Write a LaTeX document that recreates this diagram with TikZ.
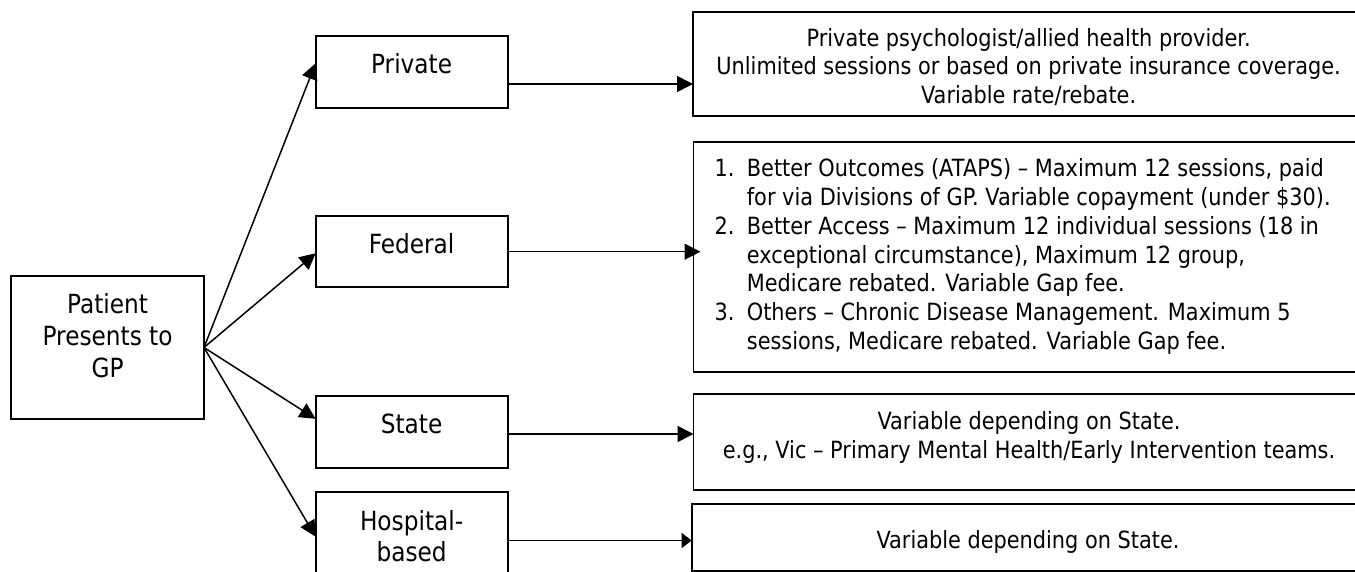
\documentclass[tikz,border=0pt]{standalone}
\usepackage{fontspec}
\setmainfont{DejaVu Sans}[FakeStretch=0.88]
\usetikzlibrary{arrows.meta}
\newcommand\lfont{\fontsize{26.4}{32}\selectfont}
\newcommand\rfont{\fontsize{23.7}{28.8}\selectfont}
\begin{document}
\begin{tikzpicture}[x=1pt,y=-1pt,
  box/.style={draw=black, line width=1.8pt, rectangle, inner sep=0pt, outer sep=0pt, anchor=north west},
  ltxt/.style={inner sep=0pt, anchor=base, font=\lfont},
  rtxt/.style={inner sep=0pt, anchor=base, font=\rfont},
  ftxt/.style={inner sep=0pt, anchor=base west, font=\rfont},
  conn/.style={line width=1.5pt, -{Triangle[length=16pt,width=16pt]}},
  connshort/.style={line width=1.5pt, -{Triangle[length=10pt,width=15pt]}}
]
\useasboundingbox (0,0) rectangle (1355,572);
\clip (0,0) rectangle (1355,572);
% left boxes
\node[box, minimum width=192.8pt, minimum height=143pt] (patient) at (11.2,276) {};
\node[box, minimum width=192pt, minimum height=72.3pt] (private) at (315.6,35.7) {};
\node[box, minimum width=192pt, minimum height=71.6pt] (federal) at (315.6,215.7) {};
\node[box, minimum width=192pt, minimum height=72.3pt] (state) at (315.6,396) {};
\node[box, minimum width=192pt, minimum height=110pt] (hospital) at (315.6,491.7) {};
% right boxes
\node[box, minimum width=680pt, minimum height=104.3pt] (rp) at (693,11.7) {};
\node[box, minimum width=680pt, minimum height=229.4pt] (rf) at (693.5,142.3) {};
\node[box, minimum width=680pt, minimum height=96pt] (rs) at (693.5,394) {};
\node[box, minimum width=680pt, minimum height=66.7pt] (rh) at (691.7,504) {};
% left texts
\node[ltxt] (tpat1) at (107.6,313.3) {Patient};
\node[ltxt] (tpat2) at (107.6,345) {Presents to};
\node[ltxt] (tpat3) at (107.6,377.3) {GP};
\node[ltxt] (tpriv) at (411.6,73.3) {Private};
\node[ltxt] (tfed) at (411.6,253.3) {Federal};
\node[ltxt] (tstate) at (411.6,433.3) {State};
\node[ltxt] (thosp1) at (411.6,530) {Hospital-};
\node[ltxt] (thosp2) at (411.6,561.7) {based};
% right texts
\node[rtxt] (trp1) at (1028.6,46.7) {Private psychologist/allied health provider.};
\node[rtxt] (trp2) at (1028.6,75) {Unlimited sessions or based on private insurance coverage.};
\node[rtxt] (trp3) at (1028.6,103.3) {Variable rate/rebate.};
\node[ftxt] (fn1) at (714.4,176.7) {1.};
\node[ftxt] (fl1) at (746.7,176.7) {Better Outcomes (ATAPS) – Maximum 12 sessions, paid};
\node[ftxt] (fl2) at (746.7,205.5) {for via Divisions of GP. Variable copayment (under \$30).};
\node[ftxt] (fn2) at (714.4,234.3) {2.};
\node[ftxt] (fl3) at (746.7,234.3) {Better Access – Maximum 12 individual sessions (18 in};
\node[ftxt] (fl4) at (746.7,263.1) {exceptional circumstance), Maximum 12 group,};
\node[ftxt] (fl5) at (746.7,291.9) {Medicare rebated. Variable Gap fee.};
\node[ftxt] (fn3) at (714.4,320.7) {3.};
\node[ftxt] (fl6) at (746.7,320.7) {Others – Chronic Disease Management. Maximum 5};
\node[ftxt] (fl7) at (746.7,349.5) {sessions, Medicare rebated. Variable Gap fee.};
\node[rtxt] (trs1) at (1029,429.3) {Variable depending on State.};
\node[rtxt] (trs2) at (1029,458.3) {e.g., Vic – Primary Mental Health/Early Intervention teams.};
\node[rtxt] (trh1) at (1028,548.3) {Variable depending on State.};
% connectors from patient
\draw[conn] (patient.east) -- ([yshift=-27.6pt]private.north west);
\draw[conn] (patient.east) -- ([yshift=-37.6pt]federal.north west);
\draw[conn] (patient.east) -- ([yshift=-22.8pt]state.north west);
\draw[conn] (patient.east) -- ([yshift=-45pt]hospital.north west);
% horizontal connectors
\coordinate (pa) at ([yshift=-48.3pt]private.north east);
\coordinate (fa) at ([yshift=-36pt]federal.north east);
\coordinate (sa) at ([yshift=-38pt]state.north east);
\coordinate (ha) at ([yshift=-48.8pt]hospital.north east);
\path (fa -| rf.west) ++(7,0) coordinate (fb);
\draw[conn] (pa) -- (pa -| rp.west);
\draw[conn] (fa) -- (fb);
\draw[conn] (sa) -- (sa -| rs.west);
\draw[connshort] (ha) -- (ha -| rh.west);
\end{tikzpicture}
\end{document}
